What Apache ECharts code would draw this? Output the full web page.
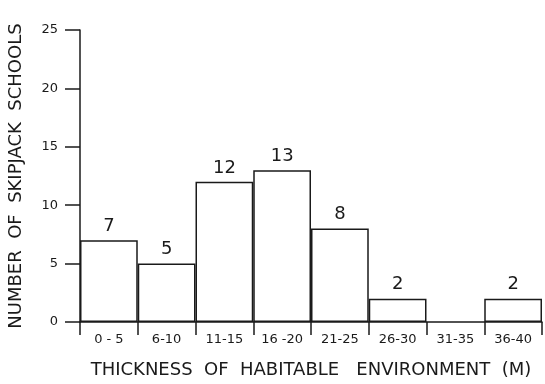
<!DOCTYPE html>
<html>
<head>
<meta charset="utf-8">
<script src="https://cdn.jsdelivr.net/npm/echarts@6/dist/echarts.min.js"></script>
<style>
html,body{margin:0;padding:0;background:#fff;}
#chart{width:545px;height:384px;}
</style>
</head>
<body>
<div id="chart"></div>
<script>
const categories = ['0 - 5', '6-10', '11-15', '16 -20', '21-25', '26-30', '31-35', '36-40'];
const counts = [7, 5, 12, 13, 8, 2, 0, 2];
const yTitle = 'NUMBER  OF  SKIPJACK  SCHOOLS';
const xTitle = 'THICKNESS  OF  HABITABLE   ENVIRONMENT  (M)';

const ink = '#1a1a1a';
const font = 'DejaVu Sans';
const chart = echarts.init(document.getElementById('chart'), null, {renderer: 'canvas'});
chart.setOption({
  animation: false,
  backgroundColor: '#ffffff',
  grid: {left: 80, right: 3, top: 30, bottom: 62, containLabel: false, outerBoundsMode: 'none'},
  xAxis: {
    type: 'category',
    data: categories,
    boundaryGap: true,
    name: xTitle,
    nameLocation: 'middle',
    nameGap: 39,
    nameTextStyle: {color: ink, fontFamily: font, fontSize: 18},
    axisLine: {show: true, lineStyle: {color: ink, width: 1.5}},
    axisTick: {show: true, length: 13, inside: false, lineStyle: {color: ink, width: 1.5}},
    axisLabel: {color: ink, fontFamily: font, fontSize: 13, margin: 11, interval: 0},
    splitLine: {show: false}
  },
  yAxis: {
    type: 'value',
    min: 0, max: 25, interval: 5,
    name: yTitle,
    nameLocation: 'middle',
    nameGap: 55,
    nameRotate: 90,
    nameTextStyle: {color: ink, fontFamily: font, fontSize: 18},
    axisLine: {show: true, lineStyle: {color: ink, width: 1.5}},
    axisTick: {show: true, length: 15, lineStyle: {color: ink, width: 1.5}},
    axisLabel: {color: ink, fontFamily: font, fontSize: 13, margin: 22},
    splitLine: {show: false}
  },
  series: [{
    type: 'bar',
    data: counts.map(v => v === 0 ? null : v),
    barCategoryGap: '0%',
    itemStyle: {color: '#ffffff', borderColor: ink, borderWidth: 1.5},
    label: {show: true, position: 'top', distance: 5, color: ink, fontFamily: font, fontSize: 18}
  }]
});
</script>
</body>
</html>
